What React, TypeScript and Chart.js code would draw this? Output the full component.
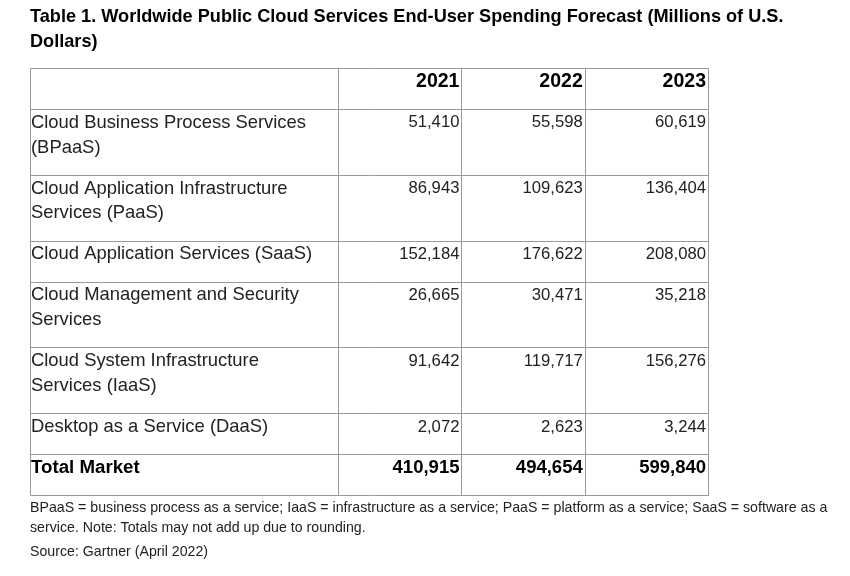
import React, { useEffect, useRef } from 'react';
import { Chart, registerables } from 'chart.js';

Chart.register(...registerables);

const titleLines = [
  'Table 1. Worldwide Public Cloud Services End-User Spending Forecast (Millions of U.S.',
  'Dollars)',
];
const years = ['2021', '2022', '2023'];
const segments = [
  ['Cloud Business Process Services', '(BPaaS)'],
  ['Cloud Application Infrastructure', 'Services (PaaS)'],
  ['Cloud Application Services (SaaS)'],
  ['Cloud Management and Security', 'Services'],
  ['Cloud System Infrastructure', 'Services (IaaS)'],
  ['Desktop as a Service (DaaS)'],
];
const spend2021 = [51410, 86943, 152184, 26665, 91642, 2072];
const spend2022 = [55598, 109623, 176622, 30471, 119717, 2623];
const spend2023 = [60619, 136404, 208080, 35218, 156276, 3244];
const totalLabel = 'Total Market';
const totals = [410915, 494654, 599840];
const footnoteLines = [
  'BPaaS = business process as a service; IaaS = infrastructure as a service; PaaS = platform as a service; SaaS = software as a',
  'service. Note: Totals may not add up due to rounding.',
];
const sourceLine = 'Source: Gartner (April 2022)';

// layout helpers (units: text lines / column weights)
const ROW_PAD = 0.64;
const colWeights = [2.5, 1, 1, 1];

const BODY_FONT = '"Liberation Sans", Arial, sans-serif';

const fmt = (n: number) => n.toLocaleString('en-US');

export default function App() {
  const ref = useRef<HTMLCanvasElement | null>(null);

  useEffect(() => {
    if (!ref.current) return;
    const seriesList = [spend2021, spend2022, spend2023];

    const rowLines: number[] = [1, ...segments.map((s) => s.length), 1];
    const rowTops: number[] = [];
    let acc = 0;
    rowLines.forEach((l) => {
      rowTops.push(acc);
      acc += l + ROW_PAD;
    });
    const rowBottom = acc;
    const colEdges: number[] = [0];
    colWeights.forEach((w) => colEdges.push(colEdges[colEdges.length - 1] + w));

    const datasets = years.map((yr, j) => {
      const vals = [...seriesList[j], totals[j]];
      return {
        label: yr,
        data: vals.map((v, i) => ({ x: colEdges[j + 2], y: rowTops[i + 1], v })),
        pointRadius: 0,
        pointHoverRadius: 0,
        showLine: false,
      };
    });

    const narrowText = (ctx: any, t: string, x: number, y: number, sx: number) => {
      ctx.save();
      ctx.translate(x, y);
      ctx.scale(sx, 1);
      ctx.fillText(t, 0, 0);
      ctx.restore();
    };

    const tablePlugin = {
      id: 'tablePlugin',
      afterDatasetsDraw(chart: any) {
        const ctx = chart.ctx;
        const xs = chart.scales.x;
        const ys = chart.scales.y;
        const area = chart.chartArea;
        const unit = ys.getPixelForValue(1) - ys.getPixelForValue(0);
        const crisp = (p: number) => Math.round(p) + 0.5;

        ctx.save();
        // title
        ctx.fillStyle = '#000';
        ctx.textBaseline = 'middle';
        ctx.textAlign = 'left';
        ctx.font = `bold 19px ${BODY_FONT}`;
        titleLines.forEach((t, k) => {
          narrowText(ctx, t, area.left, 17 + k * 25, 0.955);
        });

        // grid
        ctx.strokeStyle = '#999';
        ctx.lineWidth = 1;
        ctx.beginPath();
        colEdges.forEach((c) => {
          const x = crisp(xs.getPixelForValue(c));
          ctx.moveTo(x, crisp(ys.getPixelForValue(0)));
          ctx.lineTo(x, crisp(ys.getPixelForValue(rowBottom)));
        });
        [...rowTops, rowBottom].forEach((r) => {
          const y = crisp(ys.getPixelForValue(r));
          ctx.moveTo(crisp(xs.getPixelForValue(0)), y);
          ctx.lineTo(crisp(xs.getPixelForValue(colEdges[colEdges.length - 1])), y);
        });
        ctx.stroke();

        const textOff = 0.55;
        // header
        ctx.fillStyle = '#000';
        ctx.font = `bold 19.5px ${BODY_FONT}`;
        ctx.textAlign = 'right';
        years.forEach((yr, j) => {
          ctx.fillText(yr, xs.getPixelForValue(colEdges[j + 2]) - 2, ys.getPixelForValue(rowTops[0] + textOff));
        });

        // labels
        ctx.textAlign = 'left';
        segments.forEach((lines, i) => {
          ctx.fillStyle = '#222';
          ctx.font = `18.4px ${BODY_FONT}`;
          lines.forEach((t, k) => {
            ctx.fillText(t, xs.getPixelForValue(0) + 1, ys.getPixelForValue(rowTops[i + 1] + textOff + k));
          });
        });
        ctx.fillStyle = '#000';
        ctx.font = `bold 18.7px ${BODY_FONT}`;
        ctx.fillText(totalLabel, xs.getPixelForValue(0) + 1, ys.getPixelForValue(rowTops[rowTops.length - 1] + textOff));

        // values via dataset elements
        ctx.textAlign = 'right';
        chart.data.datasets.forEach((ds: any, j: number) => {
          const meta = chart.getDatasetMeta(j);
          meta.data.forEach((el: any, i: number) => {
            const isTotal = i === ds.data.length - 1;
            ctx.fillStyle = isTotal ? '#000' : '#222';
            ctx.font = isTotal ? `bold 18.5px ${BODY_FONT}` : `16.7px ${BODY_FONT}`;
            ctx.fillText(fmt(ds.data[i].v), el.x - 2, el.y + textOff * unit);
          });
        });

        // footnotes
        const bottomPx = ys.getPixelForValue(rowBottom);
        ctx.textAlign = 'left';
        ctx.fillStyle = '#222';
        ctx.font = `15px ${BODY_FONT}`;
        footnoteLines.forEach((t, k) => {
          narrowText(ctx, t, area.left, bottomPx + 13 + k * 20, 0.945);
        });
        narrowText(ctx, sourceLine, area.left, bottomPx + 13 + footnoteLines.length * 20 + 4, 0.945);
        ctx.restore();
      },
    };

    const chart = new Chart(ref.current, {
      type: 'scatter',
      data: { datasets },
      options: {
        animation: false,
        responsive: false,
        devicePixelRatio: 1,
        layout: { padding: { left: 30, right: 142, top: 68, bottom: 81 } },
        plugins: { legend: { display: false }, tooltip: { enabled: false }, title: { display: false } },
        events: [],
        scales: {
          x: { type: 'linear', display: false, min: 0, max: colEdges[colEdges.length - 1] },
          y: { type: 'linear', display: false, min: 0, max: rowBottom, reverse: true },
        },
      },
      plugins: [tablePlugin],
    } as any);

    return () => chart.destroy();
  }, []);

  return (
    <div style={{ position: 'absolute', left: 0, top: 0, width: 850, height: 576, background: '#fff' }}>
      <canvas ref={ref} width={850} height={576} />
    </div>
  );
}
